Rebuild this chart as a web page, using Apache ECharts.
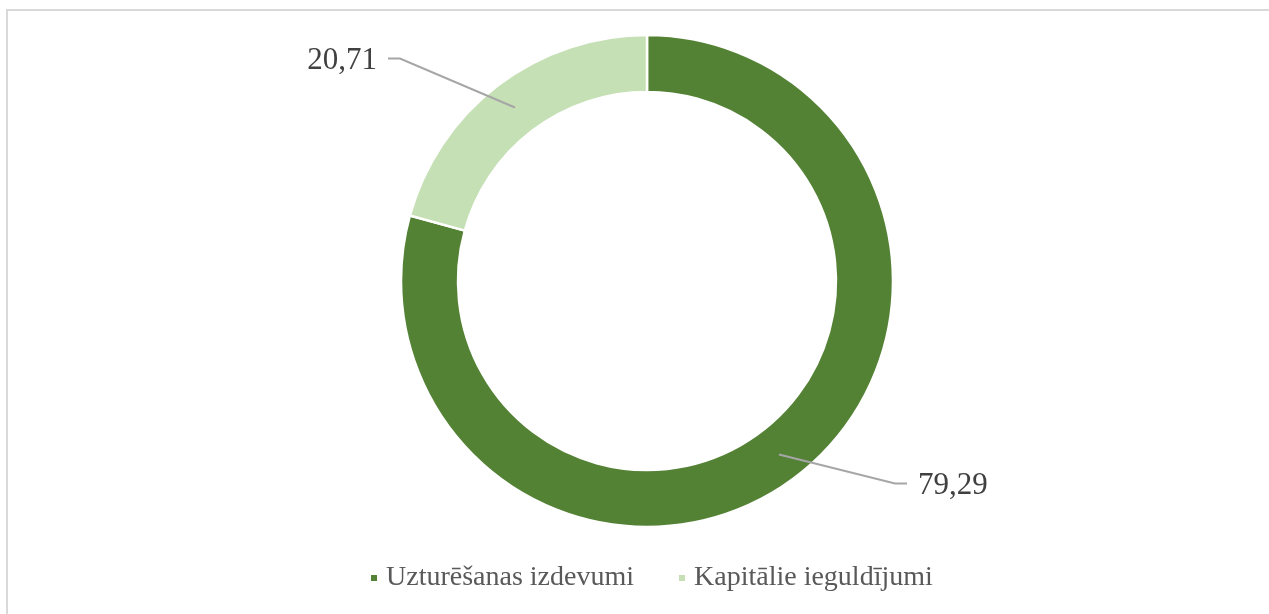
<!DOCTYPE html>
<html>
<head>
<meta charset="utf-8">
<script src="https://cdn.jsdelivr.net/npm/echarts@6/dist/echarts.min.js"></script>
<style>
  html, body { margin: 0; padding: 0; background: #ffffff; }
  #chart { width: 1269px; height: 614px; }
</style>
</head>
<body>
<div id="chart"></div>
<script>
// ---- data ----
const categories = ['Uzturēšanas izdevumi', 'Kapitālie ieguldījumi'];
const values = [79.29, 20.71];
const colors = ['#548235', '#C5E0B4'];

// ---- leader-line offsets (layout only) ----
const leaderElbow = [[116, 29], [-115, -49]];
const leaderTail = 12;
const labelGap = 11;

const serif = "'Liberation Serif', 'Times New Roman', serif";
const chart = echarts.init(document.getElementById('chart'), null, { renderer: 'canvas' });

const seriesData = categories.map((name, i) => ({ name: name, value: values[i], itemStyle: { color: colors[i] } }));

chart.setOption({
  animation: false,
  backgroundColor: '#ffffff',
  graphic: [{
    type: 'rect',
    shape: { x: 7, y: 10, width: 1290, height: 640 },
    style: { fill: 'none', stroke: '#D9D9D9', lineWidth: 2 },
    silent: true
  }],
  legend: {
    data: categories,
    left: 369,
    top: 564,
    padding: 0,
    orient: 'horizontal',
    itemWidth: 8,
    itemHeight: 8,
    itemGap: 43,
    icon: 'rect',
    textStyle: { fontFamily: serif, fontSize: 28, color: '#595959', padding: [0, 0, 0, 3] }
  },
  series: [
    {
      type: 'pie',
      center: [647, 281],
      radius: [189, 246],
      startAngle: 90,
      clockwise: true,
      silent: true,
      label: { show: false },
      labelLine: { show: false },
      itemStyle: { borderColor: '#ffffff', borderWidth: 2.5 },
      data: seriesData
    },
    {
      type: 'pie',
      center: [647, 281],
      radius: [0, 218],
      startAngle: 90,
      clockwise: true,
      silent: true,
      z: 5,
      itemStyle: { color: 'rgba(0,0,0,0)' },
      label: {
        show: true,
        position: 'outside',
        fontFamily: serif,
        fontSize: 31,
        color: '#404040',
        formatter: p => p.value.toFixed(2).replace('.', ',')
      },
      labelLine: {
        show: true,
        length: 20,
        length2: 12,
        lineStyle: { color: '#A6A6A6', width: 2 }
      },
      labelLayout: function (params) {
        const i = params.dataIndex;
        const p0 = params.labelLinePoints[0];
        const off = leaderElbow[i];
        const elbow = [p0[0] + off[0], p0[1] + off[1]];
        const dir = off[0] < 0 ? -1 : 1;
        const end = [elbow[0] + dir * leaderTail, elbow[1]];
        return {
          x: end[0] + dir * labelGap,
          y: end[1] + 2,
          align: dir < 0 ? 'right' : 'left',
          verticalAlign: 'middle',
          labelLinePoints: [p0, elbow, end]
        };
      },
      data: categories.map((name, i) => ({ name: name, value: values[i] }))
    }
  ]
});
</script>
</body>
</html>
